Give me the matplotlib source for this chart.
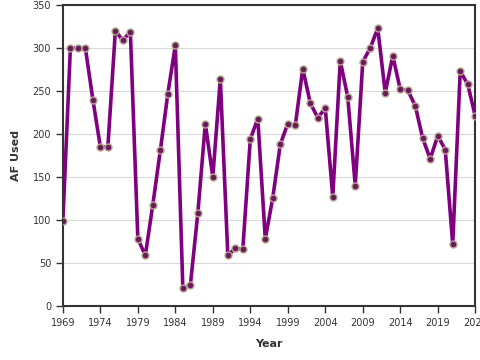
import matplotlib
matplotlib.use("Agg")
import matplotlib.pyplot as plt

# -------- data --------
years = list(range(1969, 2025))
af_used = [99, 300, 300, 300, 240, 185, 185, 320, 309, 319,
           78, 59, 118, 181, 247, 303, 21, 24, 108, 212,
           150, 264, 59, 67, 66, 194, 218, 78, 126, 188,
           212, 210, 276, 236, 219, 230, 127, 285, 243, 140,
           284, 300, 323, 248, 291, 252, 251, 233, 195, 171,
           198, 182, 72, 273, 258, 221]
x_ticks = list(range(1969, 2025, 5))
y_ticks = list(range(0, 351, 50))

# -------- plot --------
fig = plt.figure(figsize=(4.8, 3.6), dpi=100)
ax = fig.add_axes([0.131, 0.15, 0.859, 0.836])

ax.plot(years, af_used, color="#800080", linewidth=2.6, zorder=3,
        marker="o", markersize=5, markerfacecolor="#6b1a5e",
        markeredgecolor="#b5a98a", markeredgewidth=1.0)

ax.set_xlim(1969, 2024)
ax.set_ylim(0, 350)
ax.set_xticks(x_ticks)
ax.set_yticks(y_ticks)
ax.grid(axis="y", color="#d9d9d9", linewidth=0.8)
ax.set_axisbelow(True)

for s in ax.spines.values():
    s.set_color("#333333")
    s.set_linewidth(1.5)

ax.tick_params(colors="#333333", labelsize=7, length=5, width=1)
ax.set_xlabel("Year", fontsize=8, fontweight="bold", color="#333333", labelpad=8)
ax.set_ylabel("AF Used", fontsize=8, fontweight="bold", color="#333333", labelpad=8)

fig.savefig("out.png", dpi=100)
